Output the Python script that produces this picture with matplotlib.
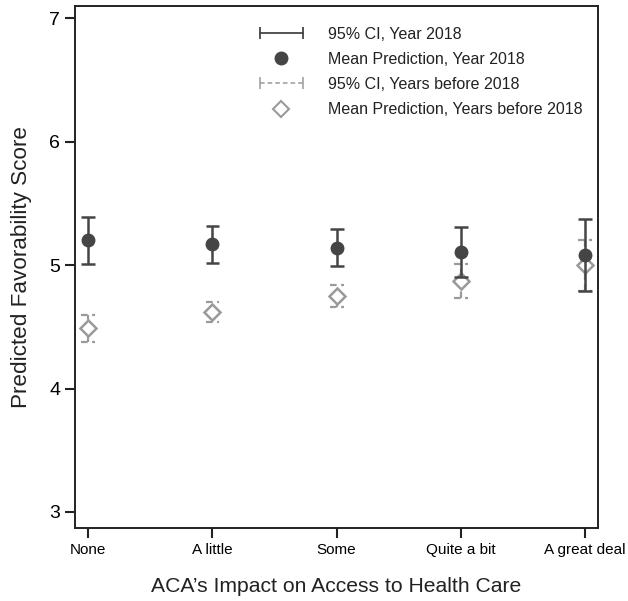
import matplotlib
matplotlib.use("Agg")
import matplotlib.pyplot as plt
from matplotlib.lines import Line2D
from matplotlib.legend_handler import HandlerLine2D
import numpy as np

plt.rcParams['font.family'] = ['Liberation Sans', 'DejaVu Sans']

categories = ["None", "A little", "Some", "Quite a bit", "A great deal"]
mean_2018 = [5.20, 5.17, 5.14, 5.11, 5.08]
lo_2018 = [5.01, 5.02, 4.99, 4.90, 4.79]
hi_2018 = [5.39, 5.32, 5.29, 5.31, 5.37]
mean_before = [4.49, 4.62, 4.75, 4.87, 5.00]
lo_before = [4.38, 4.54, 4.66, 4.73, 4.79]
hi_before = [4.60, 4.70, 4.84, 5.01, 5.20]
yticks = [3, 4, 5, 6, 7]

dark = "#454545"
gray = "#9a9a9a"

fig = plt.figure(figsize=(6.28, 6.01), dpi=100)
ax = fig.add_axes([0.119, 0.1215, 0.833, 0.8685])

x = np.arange(len(categories))
cap = 0.056

# Years before 2018 (dashed CI)
ax.vlines(x, lo_before, hi_before, colors=gray, linestyles=(0, (3, 2)), lw=1.6, zorder=2)
ax.hlines(lo_before, x - cap, x + cap, colors=gray, linestyles=(0, (3, 2)), lw=1.6, zorder=2)
ax.hlines(hi_before, x - cap, x + cap, colors=gray, linestyles=(0, (3, 2)), lw=1.6, zorder=2)
ax.plot(x, mean_before, ls='none', marker='D', ms=8.5, mfc='white', mec=gray, mew=1.8, zorder=3)

# Year 2018 (solid CI)
ax.vlines(x, lo_2018, hi_2018, colors=dark, lw=1.8, zorder=4)
ax.hlines(lo_2018, x - cap, x + cap, colors=dark, lw=1.8, zorder=4)
ax.hlines(hi_2018, x - cap, x + cap, colors=dark, lw=1.8, zorder=4)
ax.plot(x, mean_2018, ls='none', marker='o', ms=9, mfc=dark, mec=dark, zorder=5)

ax.set_xlim(-0.11, 4.105)
ax.set_ylim(2.87, 7.1)
ax.set_xticks(x)
ax.set_xticklabels(categories, fontsize=11)
ax.set_yticks(yticks)
ax.set_yticklabels([str(t) for t in yticks], fontsize=14)
ax.tick_params(axis='both', direction='out', length=7, width=1.5, color='#222222')
ax.tick_params(axis='x', pad=4)
for s in ax.spines.values():
    s.set_linewidth(1.4)
    s.set_color('#222222')

ax.set_xlabel("ACA\u2019s Impact on Access to Health Care", fontsize=15.2, labelpad=14, color='#222222')
ax.set_ylabel("Predicted Favorability Score", fontsize=16.2, labelpad=12.5, color='#222222')

h1 = Line2D([], [], color=dark, lw=1.3, marker='|', ms=8, mew=1.3)
h2 = Line2D([], [], ls='none', marker='o', ms=9, color=dark)
h3 = Line2D([], [], color=gray, lw=1.1, ls=(0, (3, 2)), marker='|', ms=8, mew=1.1)
h4 = Line2D([], [], ls='none', marker='D', ms=8, mfc='white', mec=gray, mew=1.5)
leg = ax.legend([h1, h2, h3, h4],
                ["95% CI, Year 2018", "Mean Prediction, Year 2018",
                 "95% CI, Years before 2018", "Mean Prediction, Years before 2018"],
                handler_map={h1: HandlerLine2D(numpoints=2), h3: HandlerLine2D(numpoints=2),
                             h2: HandlerLine2D(numpoints=1), h4: HandlerLine2D(numpoints=1)},
                loc='upper right', bbox_to_anchor=(0.998, 0.9875), frameon=False,
                fontsize=11.5, handlelength=3.3, handletextpad=1.25, labelspacing=0.63)
for t in leg.get_texts():
    t.set_color('#222222')

fig.savefig("out.png", dpi=100)
